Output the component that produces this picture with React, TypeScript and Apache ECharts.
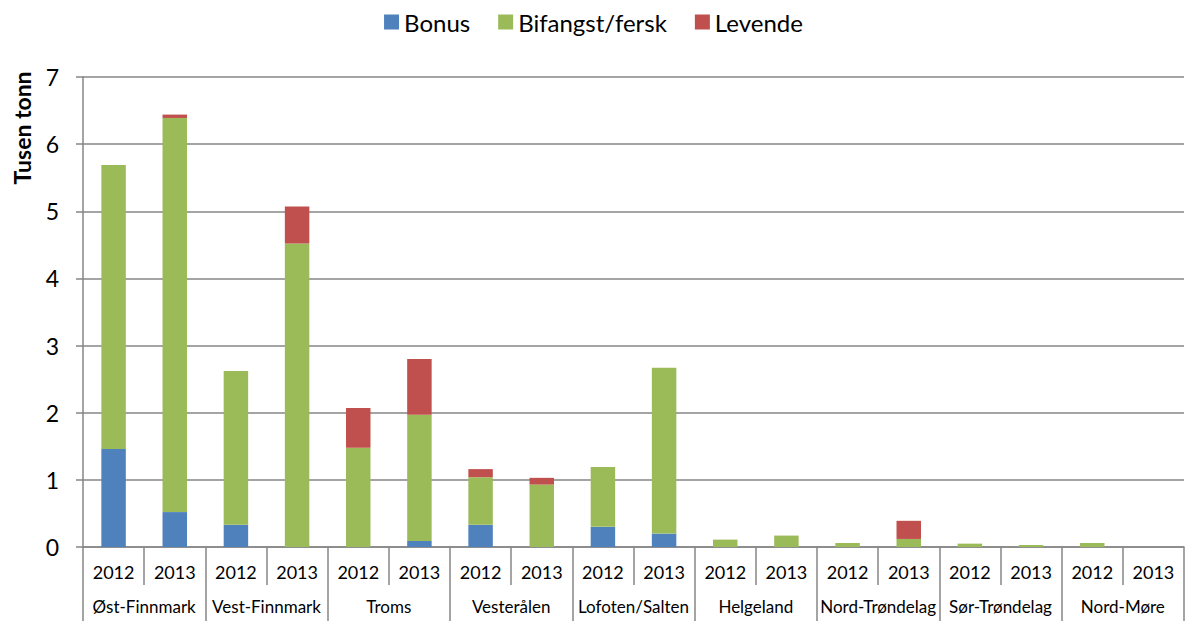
import React, { useEffect, useRef } from "react";
import * as echarts from "echarts";

const regions = ["Øst-Finnmark", "Vest-Finnmark", "Troms", "Vesterålen", "Lofoten/Salten", "Helgeland", "Nord-Trøndelag", "Sør-Trøndelag", "Nord-Møre"];
const years = ["2012", "2013"];
const yearCategories = regions.flatMap(() => years);

const bonus = [1.46, 0.52, 0.33, 0, 0, 0.09, 0.33, 0, 0.3, 0.2, 0, 0, 0, 0, 0, 0, 0, 0];
const bifangst = [4.23, 5.87, 2.29, 4.52, 1.48, 1.88, 0.71, 0.93, 0.89, 2.47, 0.11, 0.17, 0.06, 0.12, 0.05, 0.03, 0.06, 0];
const levende = [0, 0.05, 0, 0.55, 0.59, 0.83, 0.12, 0.1, 0, 0, 0, 0, 0, 0.27, 0, 0, 0, 0];

const yTicks = { min: 0, max: 7, interval: 1 };

const FONT = "Lato, 'Open Sans', sans-serif";
const GRAY = "#868686";

export default function App() {
  const ref = useRef<HTMLDivElement>(null);
  useEffect(() => {
    if (!ref.current) return;
    const chart = echarts.init(ref.current, null, { renderer: "svg" });
    const barStyle = (color: string) => ({
      type: "bar" as const,
      stack: "total",
      barWidth: "40%",
      xAxisIndex: 0,
      itemStyle: { color },
    });
    chart.setOption({
      animation: false,
      textStyle: { fontFamily: FONT },
      legend: {
        top: 5,
        left: "center",
        itemWidth: 15,
        itemHeight: 15,
        itemGap: 28,
        icon: "rect",
        textStyle: { fontSize: 24, color: "#000", fontFamily: FONT },
        data: ["Bonus", "Bifangst/fersk", "Levende"],
      },
      graphic: [
        {
          type: "text",
          x: 22,
          y: 128,
          rotation: Math.PI / 2,
          style: {
            text: "Tusen tonn",
            font: `bold 23px ${FONT}`,
            fill: "#000",
            textAlign: "center",
            textVerticalAlign: "middle",
          },
        },
      ],
      grid: { left: 83, right: 3, top: 77, bottom: 74, containLabel: false },
      xAxis: [
        {
          type: "category",
          data: yearCategories,
          position: "bottom",
          axisLine: { lineStyle: { color: GRAY, width: 1.5 } },
          axisTick: { show: true, interval: 0, length: 38, lineStyle: { color: GRAY, width: 1.5 } },
          axisLabel: { interval: 0, margin: 16, fontSize: 18, color: "#000", fontFamily: FONT },
        },
        {
          type: "category",
          data: regions,
          position: "bottom",
          offset: 38,
          axisLine: { show: false },
          axisTick: { show: true, interval: 0, length: 36, lineStyle: { color: GRAY, width: 1.5 } },
          axisLabel: { interval: 0, margin: 13, fontSize: 17, color: "#000", fontFamily: FONT },
        },
      ],
      yAxis: {
        type: "value",
        min: yTicks.min,
        max: yTicks.max,
        interval: yTicks.interval,
        axisLine: { show: true, lineStyle: { color: GRAY, width: 1.5 } },
        axisTick: { show: true, length: 7, lineStyle: { color: GRAY, width: 1.5 } },
        axisLabel: { margin: 24, fontSize: 23, color: "#000", fontFamily: FONT },
        splitLine: { lineStyle: { color: GRAY, width: 1.5 } },
      },
      series: [
        { ...barStyle("#4F81BD"), name: "Bonus", data: bonus },
        { ...barStyle("#9BBB59"), name: "Bifangst/fersk", data: bifangst },
        { ...barStyle("#C0504D"), name: "Levende", data: levende },
      ],
    });
    return () => chart.dispose();
  }, []);
  return (
    <div
      ref={ref}
      style={{ position: "absolute", left: 0, top: 0, width: 1187, height: 621, background: "#fff" }}
    />
  );
}
